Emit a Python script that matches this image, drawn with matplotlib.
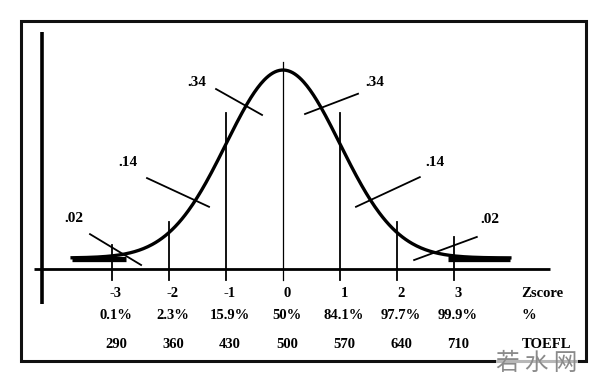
import numpy as np
import matplotlib.pyplot as plt
from matplotlib.patches import Rectangle

# z-scores and the rows printed under the axis
zscores = [-3, -2, -1, 0, 1, 2, 3]
percentiles = ['0.1%', '2.3%', '15.9%', '50%', '84.1%', '97.7%', '99.9%']
toefl = [290, 360, 430, 500, 570, 640, 710]
row_names = ['Zscore', '%', 'TOEFL']

# area labels and where their leader lines cross the curve
areas = ['.34', '.34', '.14', '.14', '.02', '.02']
label_xy = [(-1.51, 0.395), (1.61, 0.395), (-2.72, 0.227), (2.67, 0.225),
            (-3.67, 0.108), (3.63, 0.106)]
leaders = [((-1.175, 0.382), (-0.368, 0.327)),
           ((1.316, 0.372), (0.386, 0.329)),
           ((-2.386, 0.193), (-1.298, 0.132)),
           ((2.40, 0.195), (1.28, 0.132)),
           ((-3.386, 0.074), (-2.49, 0.0085)),
           ((3.40, 0.068), (2.30, 0.019))]

# height of the vertical marker at each z
marker_top = [0.051, 0.100, 0.331, 0.44, 0.331, 0.100, 0.068]

OFFSET = 0.0234  # curve sits a little above the axis in the drawing

plt.rcParams['font.family'] = ['Liberation Serif', 'DejaVu Serif']

fig = plt.figure(figsize=(6, 3.83), dpi=100)
ax = fig.add_axes([0, 0, 1, 1])
ax.set_xlim(-4.965, 5.561)
ax.set_ylim(-0.242, 0.571)
ax.axis('off')

# outer frame
fig.patches.append(Rectangle((0.035, 0.057), 0.942, 0.888, transform=fig.transFigure,
                             fill=False, lw=2.2, ec='#111111'))

# axes lines
ax.plot([-4.37, 4.68], [0, 0], color='black', lw=2.0, solid_capstyle='butt')
ax.plot([-4.23, -4.23], [-0.074, 0.503], color='black', lw=2.6, solid_capstyle='butt')

# normal curve
z = np.linspace(-3.7, 3.98, 400)
pdf = np.exp(-z ** 2 / 2) / np.sqrt(2 * np.pi)
ax.plot(z, pdf + OFFSET, color='black', lw=2.4)
# heavy flat tails
for a, b in [(-3.7, -2.75), (2.9, 3.98)]:
    ax.plot([a, b], [OFFSET - 0.002, OFFSET - 0.002], color='black', lw=3.8,
            solid_capstyle='butt')

# vertical markers at each z
for zz, top in zip(zscores, marker_top):
    lw = 0.9 if zz == 0 else 1.3
    ax.plot([zz, zz], [-0.023, top], color='black', lw=lw)

# leader lines and area labels
for lab, (tx, ty), (p0, p1) in zip(areas, label_xy, leaders):
    ax.plot([p0[0], p1[0]], [p0[1], p1[1]], color='black', lw=1.3)
    ax.text(tx, ty, lab, ha='center', va='center', fontsize=11, fontweight='bold')

# rows under the axis
rows_y = [-0.052, -0.099, -0.160]
for zz, pc, tf in zip(zscores, percentiles, toefl):
    ax.text(zz + 0.07, rows_y[0], str(zz), ha='center', va='center', fontsize=10.5,
            fontweight='bold')
    ax.text(zz + 0.07, rows_y[1], pc, ha='center', va='center', fontsize=10.5,
            fontweight='bold')
    ax.text(zz + 0.07, rows_y[2], str(tf), ha='center', va='center', fontsize=10.5,
            fontweight='bold')
for name, ry in zip(row_names, rows_y):
    ax.text(4.18, ry, name, ha='left', va='center', fontsize=10.5, fontweight='bold')

# watermark
fig.text(0.895, 0.052, '若 水 网', ha='center', va='center', fontsize=17, color='#8a8a8a',
         family=['Noto Sans CJK SC', 'DejaVu Sans'],
         bbox=dict(facecolor='white', edgecolor='none', alpha=0.7, pad=0.5))

fig.savefig('out.png', dpi=100)
